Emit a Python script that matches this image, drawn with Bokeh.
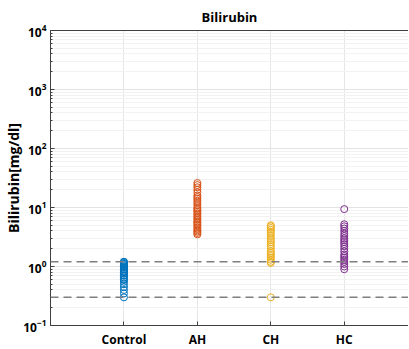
from bokeh.plotting import figure
from bokeh.models import Range1d, FixedTicker, Span, LinearAxis, LogTicker
from bokeh.embed import file_html
from bokeh.resources import INLINE

groups = ["Control", "AH", "CH", "HC"]
colors = ["#0072BD", "#D95319", "#EDB120", "#7E2F8E"]
control = [0.3, 0.35, 0.4, 0.45, 0.5, 0.55, 0.6, 0.6, 0.65, 0.7, 0.7, 0.75, 0.8, 0.8,
           0.85, 0.9, 0.9, 0.95, 1.0, 1.0, 1.05, 1.1, 1.1, 1.15, 1.2, 1.2]
ah = [3.5, 3.7, 3.9, 4.1, 4.3, 4.6, 4.9, 5.2, 5.5, 5.8, 6.2, 6.6, 7.0, 7.5, 8.0, 8.5,
      9.0, 9.5, 10, 11, 12, 13, 14, 15, 16, 18, 20, 22, 24, 26]
ch = [0.3, 1.15, 1.2, 1.3, 1.4, 1.5, 1.6, 1.7, 1.8, 2.0, 2.2, 2.4, 2.6, 2.8, 3.0, 3.3,
      3.6, 3.9, 4.2, 4.5, 4.8, 5.0]
hc = [0.9, 1.0, 1.1, 1.2, 1.3, 1.4, 1.5, 1.6, 1.8, 2.0, 2.2, 2.4, 2.6, 2.8, 3.0, 3.3,
      3.6, 4.0, 4.4, 4.8, 5.2, 9.4]
series = [control, ah, ch, hc]
ref_lines = [1.2, 0.3]

FONT = "Open Sans"

p = figure(width=408, height=350, output_backend="svg", toolbar_location=None,
           y_axis_type="log", x_range=Range1d(0, 4.875), y_range=Range1d(0.1, 10000),
           title="Bilirubin", min_border_left=50, min_border_right=0,
           min_border_top=23, min_border_bottom=24)
p.outline_line_color = None
p.background_fill_color = "white"

p.title.align = "center"
p.title.text_font = FONT
p.title.text_font_style = "bold"
p.title.text_font_size = "13px"
p.title.text_color = "#000000"

# grids
p.xgrid.ticker = FixedTicker(ticks=[1, 2, 3, 4])
p.xgrid.grid_line_color = "#e6e6e6"
p.ygrid.grid_line_color = "#e3e3e3"
p.ygrid.minor_grid_line_color = "#f2f2f2"

# x axis
xa = p.xaxis[0]
xa.axis_label = None
xa.ticker = FixedTicker(ticks=[1, 2, 3, 4])
xa.major_label_overrides = {i + 1: g for i, g in enumerate(groups)}
xa.major_label_text_font = FONT
xa.major_label_text_font_style = "bold"
xa.major_label_text_font_size = "12px"
xa.major_label_text_color = "#000000"
xa.major_tick_in = 4
xa.major_tick_out = 0
xa.minor_tick_in = 0
xa.minor_tick_out = 0
xa.axis_line_color = "#404040"
xa.major_tick_line_color = "#404040"
xa.major_label_standoff = 5

# y axis
ya = p.yaxis[0]
ya.ticker = LogTicker(num_minor_ticks=10)
ya.axis_label = "Bilirubin[mg/dl]"
ya.axis_label_text_font = FONT
ya.axis_label_text_font_style = "bold"
ya.axis_label_text_font_size = "14px"
ya.axis_label_text_color = "#000000"
ya.major_label_text_font = FONT
ya.major_label_text_font_style = "bold"
ya.major_label_text_font_size = "12px"
ya.major_label_text_color = "#000000"
ya.major_tick_in = 4
ya.major_tick_out = 0
ya.minor_tick_in = 2
ya.minor_tick_out = 0
ya.axis_line_color = "#404040"
ya.major_tick_line_color = "#404040"
ya.minor_tick_line_color = "#404040"
ya.major_label_standoff = 4
ya.axis_label_standoff = -3

# top axis (box line only)
top = LinearAxis(ticker=FixedTicker(ticks=[]), major_tick_in=0, major_tick_out=0,
                 minor_tick_in=0, minor_tick_out=0, axis_line_color="#404040",
                 major_label_standoff=0, axis_label=None, axis_label_standoff=0)
p.add_layout(top, "above")

for yv in ref_lines:
    p.add_layout(Span(location=yv, dimension="width", line_color="#7f7f7f",
                      line_width=1.5, line_dash="8 5"))

for i, (vals, c) in enumerate(zip(series, colors)):
    p.scatter([i + 1] * len(vals), vals, marker="circle", size=7,
              fill_color=None, line_color=c, line_width=1)

open("out.html", "w").write(file_html(p, INLINE))
